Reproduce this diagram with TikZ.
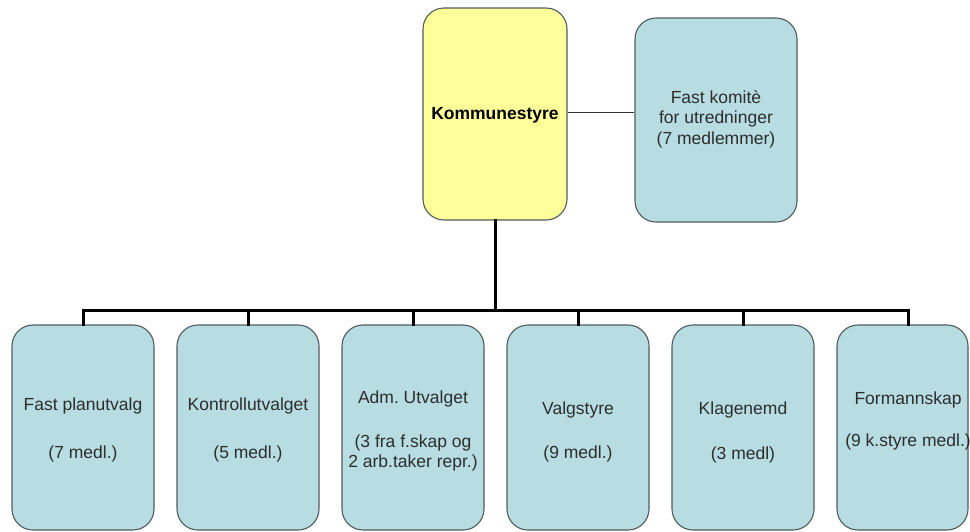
\documentclass[tikz,border=0pt]{standalone}
\usepackage{fontspec}
\setmainfont{Liberation Sans}
\frenchspacing
\definecolor{boxline}{RGB}{80,92,94}
\definecolor{bluefill}{RGB}{183,221,227}
\definecolor{yellowfill}{RGB}{255,255,153}
\definecolor{txt}{RGB}{45,45,45}
\begin{document}
\begin{tikzpicture}[x=1pt,y=-1pt,
  box/.style={draw=boxline, line width=1.1pt, rounded corners=21pt, inner sep=0pt},
  bluebox/.style={box, fill=bluefill, minimum width=142pt, minimum height=205pt},
  yellowbox/.style={box, fill=yellowfill},
  lbl/.style={font=\fontsize{17.5}{20.5}\selectfont, text=txt, align=center, inner sep=0pt},
  bus/.style={line width=3pt, black, line cap=rect, line join=miter},
  thinline/.style={line width=1pt, black!80}
]
\useasboundingbox (0,0) rectangle (970,531);
\clip (0,0) rectangle (970,531);
\fill[white] (0,0) rectangle (970,531);

% top boxes
\node[yellowbox, minimum width=144pt, minimum height=212pt] (k) at (495,114) {};
\node[lbl, text=black, font=\fontsize{17.5}{20.5}\selectfont\bfseries] (kt) at (495,115) {Kommunestyre};
\node[box, fill=bluefill, minimum width=162pt, minimum height=204pt] (f) at (716,120) {};
\node[lbl] (ft) at (716,119) {Fast komitè\\for utredninger\\(7 medlemmer)};

% bottom boxes
\node[bluebox] (b1) at (83,427.5) {};
\node[bluebox] (b2) at (248,427.5) {};
\node[bluebox] (b3) at (413,427.5) {};
\node[bluebox] (b4) at (578,427.5) {};
\node[bluebox] (b5) at (743,427.5) {};
\node[bluebox, minimum width=131pt] (b6) at (902.5,427.5) {};

% connectors
\coordinate (busy) at (0,310);
\coordinate (d6) at (908,310);
\draw[thinline] ([yshift=2pt]k.east) -- ([yshift=2pt]k.east -| f.west);
\draw[bus] (k.south) -- (k.south |- busy);
\draw[bus] (b1.north) -- (b1.north |- busy) -- (d6) -- (d6 |- b6.north);
\draw[bus] (b2.north) -- (b2.north |- busy);
\draw[bus] (b3.north) -- (b3.north |- busy);
\draw[bus] (b4.north) -- (b4.north |- busy);
\draw[bus] (b5.north) -- (b5.north |- busy);

% texts
\node[lbl] (t1a) at (83,406) {Fast planutvalg};
\node[lbl] (t1b) at (83,454) {(7 medl.)};
\node[lbl] (t2a) at (248,406) {Kontrollutvalget};
\node[lbl] (t2b) at (248,454) {(5 medl.)};
\node[lbl] (t3a) at (413,399) {Adm. Utvalget};
\node[lbl] (t3b) at (413,453) {(3 fra f.skap og\\2 arb.taker repr.)};
\node[lbl] (t4a) at (578,410) {Valgstyre};
\node[lbl] (t4b) at (578,454) {(9 medl.)};
\node[lbl] (t5a) at (743,410) {Klagenemd};
\node[lbl] (t5b) at (743,455) {(3 medl)};
\node[lbl] (t6a) at (908,400) {Formannskap};
\node[lbl] (t6b) at (908,442) {(9 k.styre medl.)};
\end{tikzpicture}
\end{document}
